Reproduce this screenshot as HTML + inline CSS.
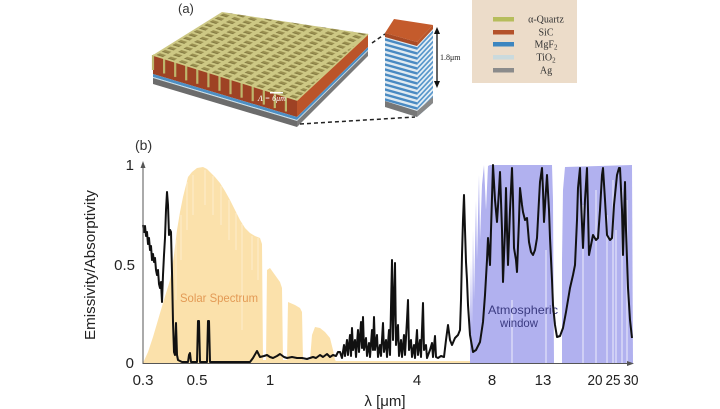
<!DOCTYPE html>
<html><head><meta charset="utf-8"><style>
html,body{margin:0;padding:0;background:#fff;}
svg{display:block;}
</style></head><body>
<svg width="720" height="409" viewBox="0 0 720 409" xmlns="http://www.w3.org/2000/svg">
<defs>
<pattern id="grid" width="1" height="1" patternUnits="userSpaceOnUse" patternTransform="matrix(11.077 3.462 5.308 -3.308 153 55)">
<rect x="0" y="0" width="1" height="1" fill="#cdc884"/>
<rect x="0.22" y="0.22" width="0.58" height="0.58" fill="#998f50"/>
<rect x="0.22" y="0.22" width="0.58" height="0.16" fill="#7f763f"/>
</pattern>
<pattern id="stripL" width="10" height="5" patternUnits="userSpaceOnUse" patternTransform="skewY(15.7)">
<rect x="0" y="0" width="10" height="2.5" fill="#4a8ac2"/>
<rect x="0" y="2.5" width="10" height="2.5" fill="#dfeaf1"/>
</pattern>
<pattern id="stripR" width="10" height="5" patternUnits="userSpaceOnUse" patternTransform="skewY(-46.7)">
<rect x="0" y="0" width="10" height="2.5" fill="#5b98cc"/>
<rect x="0" y="2.5" width="10" height="2.5" fill="#e6eff5"/>
</pattern>
</defs>

<text x="178" y="13" font-family="Liberation Sans, sans-serif" font-size="13" fill="#333">(a)</text>

<polygon points="153,55 297,100 297,117 153,74" fill="#9e4224"/>
<polygon points="153,74 297,117 297,120 153,77" fill="#4d8fc4"/>
<polygon points="153,77 297,120 297,121 153,78" fill="#cde0e8"/>
<polygon points="153,78 297,121 297,127 153,84" fill="#6c6c6c"/>
<g stroke="#bdb66c" stroke-width="2.2">
<line x1="153" y1="55" x2="153" y2="70"/>
<line x1="164.1" y1="58.5" x2="164.1" y2="73.5"/>
<line x1="175.2" y1="61.9" x2="175.2" y2="76.9"/>
<line x1="186.2" y1="65.4" x2="186.2" y2="80.4"/>
<line x1="197.3" y1="68.8" x2="197.3" y2="83.8"/>
<line x1="208.4" y1="72.3" x2="208.4" y2="87.3"/>
<line x1="219.5" y1="75.8" x2="219.5" y2="90.8"/>
<line x1="230.5" y1="79.2" x2="230.5" y2="94.2"/>
<line x1="241.6" y1="82.7" x2="241.6" y2="97.7"/>
<line x1="252.7" y1="86.2" x2="252.7" y2="101.2"/>
<line x1="263.8" y1="89.6" x2="263.8" y2="104.6"/>
<line x1="274.8" y1="93.1" x2="274.8" y2="108.1"/>
<line x1="285.9" y1="96.5" x2="285.9" y2="111.5"/>
</g>
<polygon points="297,100 368,34 368,47 297,117" fill="#bb5429"/>
<polygon points="297,117 368,47 368,50 297,120" fill="#4d8fc4"/>
<polygon points="297,120 368,50 368,51 297,121" fill="#cde0e8"/>
<polygon points="297,121 368,51 368,56 297,127" fill="#7a7a7a"/>
<polygon points="153,55 222,12 368,34 297,100" fill="url(#grid)"/>
<polyline points="153,55 297,100 368,34" fill="none" stroke="#cfc984" stroke-width="1.5"/>
<rect x="270" y="92" width="13" height="1.5" fill="#fff"/>
<text x="258" y="101" font-family="Liberation Serif, serif" font-style="italic" font-size="8" fill="#fff">Λ = 6μm</text>

<line x1="372" y1="43" x2="385" y2="34" stroke="#222" stroke-width="1.5" stroke-dasharray="4,3"/>
<line x1="300" y1="124" x2="415" y2="117" stroke="#222" stroke-width="1.5" stroke-dasharray="4,3"/>

<polygon points="385,33 417,42 417,117 385,107" fill="url(#stripL)"/>
<polygon points="417,42 433,25 433,103 417,117" fill="url(#stripR)"/>
<polygon points="385,33 417,42 417,46 385,37" fill="#a94a24"/>
<polygon points="417,42 433,25 433,29 417,46" fill="#b8552a"/>
<polygon points="385,101 417,111 417,117 385,107" fill="#777"/>
<polygon points="417,111 433,97 433,103 417,117" fill="#888"/>
<polygon points="385,33 394,19 433,25 417,42" fill="#c45b2c"/>

<line x1="437" y1="31" x2="437" y2="84" stroke="#111" stroke-width="1.3"/>
<polygon points="437,27 434,34 440,34" fill="#111"/>
<polygon points="437,88 434,81 440,81" fill="#111"/>
<text x="440" y="60" font-family="Liberation Serif, serif" font-size="8" fill="#222">1.8μm</text>

<rect x="472" y="0" width="105" height="83" fill="#ecdcc9"/>
<rect x="493" y="17" width="21" height="4.5" fill="#b6bd5c"/>
<rect x="493" y="30" width="21" height="4.5" fill="#b4522a"/>
<rect x="493" y="42" width="21" height="4.5" fill="#3c86c0"/>
<rect x="493" y="55" width="21" height="4.5" fill="#cadadd"/>
<rect x="493" y="68" width="21" height="4.5" fill="#8b8b8b"/>
<g font-family="Liberation Serif, serif" font-size="10" fill="#333" text-anchor="middle">
<text x="546" y="22.5">α-Quartz</text>
<text x="546" y="35.5">SiC</text>
<text x="546" y="47.5">MgF<tspan font-size="7" dy="2">2</tspan></text>
<text x="546" y="60.5">TiO<tspan font-size="7" dy="2">2</tspan></text>
<text x="546" y="73.5">Ag</text>
</g>

<text x="135" y="150" font-family="Liberation Sans, sans-serif" font-size="14" fill="#333">(b)</text>

<path d="M143,363 L148,352 L153,337 L158,320 L163,303 L167,290 L170,280 L174,255 L177,230 L180,212 L183,197 L186,185 L188,177 L192,172 L197,168 L203,167 L207,169 L210,172 L215,177 L220,183 L225,191 L230,200 L235,210 L240,220 L245,228 L250,233 L255,236 L260,238 L262,244 L263,360 L266,360 L267,270 L270,268 L275,275 L280,282 L282,288 L283,360 L287,360 L288,302 L295,305 L300,308 L302,312 L303,360 L310,360 L312,335 L315,327 L320,328 L325,332 L330,338 L333,350 L335,360 L336,361 L470,361 L470,363 Z" fill="#fbe1ab"/>
<g stroke="#fff3dc" stroke-width="1" opacity="0.7">
<line x1="176" y1="240" x2="176" y2="300"/>
<line x1="181" y1="215" x2="181" y2="260"/>
<line x1="187" y1="182" x2="187" y2="230"/>
<line x1="193" y1="175" x2="193" y2="215"/>
<line x1="205" y1="170" x2="205" y2="205"/>
<line x1="213" y1="176" x2="213" y2="215"/>
<line x1="221" y1="186" x2="221" y2="225"/>
<line x1="229" y1="200" x2="229" y2="240"/>
<line x1="236" y1="213" x2="236" y2="250"/>
<line x1="242" y1="224" x2="242" y2="330"/>
<line x1="252" y1="236" x2="252" y2="270"/>
<line x1="258" y1="238" x2="258" y2="280"/>
</g>

<path d="M470,363 L470,330 L471,260 L472,330 L473,230 L474,300 L476,200 L477,260 L479,175 L480,240 L482,185 L484,165 L486,210 L488,166 L490,165 L552,165 L553,200 L554,363 Z" fill="#b1b1ef"/>
<path d="M562,363 L562,260 L563,190 L565,167 L632,165 L633,363 Z" fill="#b1b1ef"/>
<g stroke="#e4e4fa" stroke-width="1.5" opacity="0.8">
<line x1="583" y1="205" x2="583" y2="363"/>
<line x1="596" y1="190" x2="596" y2="363"/>
<line x1="607" y1="215" x2="607" y2="363"/>
<line x1="613" y1="180" x2="613" y2="363"/>
<line x1="616" y1="230" x2="616" y2="363"/>
<line x1="622" y1="190" x2="622" y2="363"/>
<line x1="627" y1="200" x2="627" y2="363"/>
<line x1="512" y1="300" x2="512" y2="363"/>
<line x1="546" y1="250" x2="546" y2="363"/>
</g>

<text x="488" y="314" font-family="Liberation Sans, sans-serif" font-size="12" fill="#3a3a80" textLength="70" lengthAdjust="spacingAndGlyphs">Atmospheric</text>
<text x="500" y="327" font-family="Liberation Sans, sans-serif" font-size="12" fill="#3a3a80" textLength="38" lengthAdjust="spacingAndGlyphs">window</text>
<text x="180" y="302" font-family="Liberation Sans, sans-serif" font-size="12" fill="#e39a55" textLength="78" lengthAdjust="spacingAndGlyphs">Solar Spectrum</text>

<path fill="none" stroke="#111" stroke-width="2" stroke-linejoin="round" d="M143,225 L144,232 L145,226 L146,236 L147,232 L148,244 L149,238 L150,250 L151,246 L152,260 L153,254 L154,262 L155,258 L156,270 L157,275 L158,270 L159,284 L160,288 L161,282 L162,302 L163,275 L164,255 L165,238 L166,210 L167,192 L168,205 L169,235 L170,230 L171,232 L172,272 L173,322 L174,352 L175,355 L176,323 L177,355 L178,360 L182,362 L188,362 L189,355 L190,353 L191,362 L197,362 L198,321 L199,321 L200,362 L207,362 L208,321 L209,321 L210,362 L250,362 L253,358 L257,351 L260,357 L264,356 L267,355 L270,357 L273,358 L277,356 L280,354 L284,357 L287,358 L292,357 L297,358 L302,358 L307,359 L313,357 L316,358 L320,355 L323,357 L327,354 L330,357 L333,355 L336,356 L338,352 L340,352 L342,358 L344,345 L345,356 L347,340 L348,355 L350,335 L351,356 L352,328 L353,350 L355,340 L356,357 L358,330 L359,352 L361,322 L362,348 L363,317 L364,350 L366,338 L367,356 L369,343 L370,357 L372,330 L373,350 L374,317 L375,350 L377,335 L378,357 L380,345 L381,356 L383,323 L384,352 L386,340 L387,357 L389,330 L390,355 L392,260 L393,340 L394,300 L395,263 L396,345 L398,325 L399,356 L401,340 L402,357 L404,335 L405,355 L407,320 L408,300 L409,350 L411,340 L412,357 L414,345 L415,358 L417,330 L418,355 L420,340 L421,357 L423,303 L424,350 L426,345 L427,358 L430,350 L432,343 L433,357 L435,336 L436,357 L438,358 L441,356 L444,357 L446,340 L448,325 L450,340 L452,345 L455,338 L458,335 L460,330 L461,300 L462,255 L463,220 L464,195 L465,230 L466,262 L467,280 L468,305 L470,335 L473,352 L476,350 L480,342 L483,322 L485,295 L487,260 L488,238 L490,265 L491,230 L493,165 L495,200 L497,222 L499,190 L500,172 L502,230 L503,282 L505,230 L506,188 L507,230 L508,265 L510,210 L512,168 L513,200 L514,248 L516,260 L517,272 L519,220 L520,188 L522,205 L523,212 L525,220 L527,218 L529,242 L531,252 L533,255 L535,250 L537,238 L539,200 L540,182 L542,168 L543,190 L544,222 L546,190 L547,175 L549,210 L550,238 L552,280 L553,305 L555,325 L557,337 L560,336 L563,328 L566,312 L570,288 L573,275 L575,265 L577,220 L578,188 L580,168 L581,200 L583,248 L585,200 L587,168 L588,210 L589,255 L591,245 L593,235 L596,240 L598,238 L600,210 L602,175 L603,168 L605,200 L607,235 L610,240 L612,238 L614,205 L617,175 L619,168 L620,168 L622,210 L623,255 L624,220 L625,182 L626,230 L628,288 L630,320 L632,338"/>

<line x1="143" y1="363.5" x2="630" y2="363.5" stroke="#555" stroke-width="1"/>
<polygon points="634,363.5 627,361 627,366" fill="#555"/>
<line x1="143" y1="364" x2="143" y2="166" stroke="#555" stroke-width="1"/>
<polygon points="143,161 140.5,168 145.5,168" fill="#555"/>

<g font-family="Liberation Sans, sans-serif" font-size="15" fill="#222" text-anchor="middle">
<text x="143" y="385">0.3</text>
<text x="197" y="385">0.5</text>
<text x="270" y="385">1</text>
<text x="417" y="385">4</text>
<text x="492" y="385">8</text>
<text x="543" y="385">13</text>
</g>
<g font-family="Liberation Sans, sans-serif" font-size="15" fill="#222">
<text x="587.5" y="385" textLength="15" lengthAdjust="spacingAndGlyphs">20</text>
<text x="605.5" y="385" textLength="15" lengthAdjust="spacingAndGlyphs">25</text>
<text x="623.5" y="385" textLength="15" lengthAdjust="spacingAndGlyphs">30</text>
</g>
<g font-family="Liberation Sans, sans-serif" font-size="15" fill="#222" text-anchor="end">
<text x="134" y="170">1</text>
<text x="135" y="270">0.5</text>
<text x="134" y="368">0</text>
</g>
<text x="385" y="406" font-family="Liberation Sans, sans-serif" font-size="15" fill="#222" text-anchor="middle">λ [μm]</text>
<text transform="translate(95,265) rotate(-90)" font-family="Liberation Sans, sans-serif" font-size="15" fill="#222" text-anchor="middle" textLength="150" lengthAdjust="spacingAndGlyphs">Emissivity/Absorptivity</text>
</svg>
</body></html>
